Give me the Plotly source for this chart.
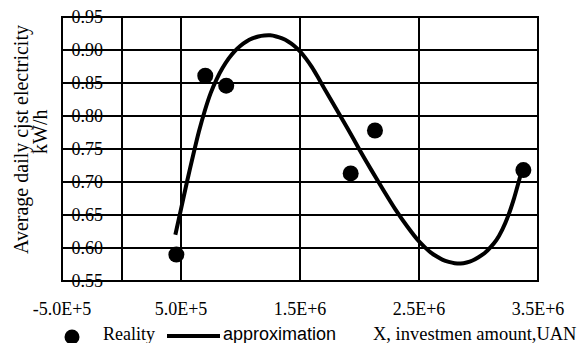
import plotly.graph_objects as go

# Observed data ("Reality")
real_x = [461000, 704000, 880000, 1926000, 2130000, 3377000]
real_y = [0.590, 0.861, 0.846, 0.713, 0.778, 0.718]

# Approximation curve
approx_x = [452500, 500000, 550000, 600000, 650000, 700000, 750000, 800000,
            850000, 900000, 950000, 1000000, 1050000, 1100000, 1150000,
            1200000, 1250000, 1300000, 1350000, 1400000, 1450000, 1500000,
            1550000, 1600000, 1650000, 1700000, 1800000, 1900000, 2000000,
            2100000, 2200000, 2300000, 2400000, 2500000, 2550000, 2600000,
            2650000, 2700000, 2750000, 2800000, 2850000, 2900000, 2950000,
            3000000, 3050000, 3100000, 3150000, 3200000, 3250000, 3300000,
            3354000]
approx_y = [0.620, 0.659, 0.700, 0.739, 0.776, 0.808, 0.835, 0.856,
            0.873, 0.887, 0.898, 0.9065, 0.913, 0.9175, 0.9205,
            0.922, 0.9222, 0.9205, 0.9175, 0.913, 0.9065, 0.898,
            0.887, 0.874, 0.859, 0.843, 0.812, 0.781, 0.749,
            0.718, 0.688, 0.659, 0.633, 0.610, 0.601, 0.593,
            0.587, 0.582, 0.579, 0.577, 0.5765, 0.578, 0.581,
            0.586, 0.592, 0.601, 0.612, 0.628, 0.649, 0.676,
            0.711]

x_tickvals = [-500000, 500000, 1500000, 2500000, 3500000]
x_ticktext = ["-5.0E+5", "5.0E+5", "1.5E+6", "2.5E+6", "3.5E+6"]
y_tickvals = [0.55, 0.60, 0.65, 0.70, 0.75, 0.80, 0.85, 0.90, 0.95]

y_title_1 = "Average daily cjst electricity"
y_title_2 = "kW/h"
x_title = "X, investmen amount,UAN"
legend_names = ["Reality", "approximation"]

SERIF = "'Liberation Serif', Tinos, 'Times New Roman', Times, serif"
SANS = "'Liberation Sans', Arimo, Arial, sans-serif"
INK = "#000000"

W, H = 579, 343
ML, MR, MT, MB = 62, 41, 17, 62
PW, PH = W - ML - MR, H - MT - MB


def px(xp):
    return (xp - ML) / PW


def py(yp):
    return (H - MB - yp) / PH


fig = go.Figure()
fig.add_trace(go.Scatter(x=approx_x, y=approx_y, mode="lines",
                         line=dict(color=INK, width=4, shape="spline", smoothing=0.6),
                         name=legend_names[1], showlegend=False, cliponaxis=False))
fig.add_trace(go.Scatter(x=real_x, y=real_y, mode="markers",
                         marker=dict(color=INK, size=16),
                         name=legend_names[0], showlegend=False, cliponaxis=False))

shapes = [
    dict(type="rect", xref="paper", yref="paper", x0=0, x1=1, y0=0, y1=1,
         line=dict(color=INK, width=2), layer="below"),
    # legend symbols
    dict(type="circle", xref="paper", yref="paper",
         x0=px(72 - 7.5), x1=px(72 + 7.5), y0=py(337 + 7.5), y1=py(337 - 7.5),
         fillcolor=INK, line=dict(color=INK, width=0)),
    dict(type="line", xref="paper", yref="paper",
         x0=px(167), x1=px(220), y0=py(336), y1=py(336),
         line=dict(color=INK, width=4)),
]

annotations = [
    dict(text=y_title_1, xref="paper", yref="paper", x=px(21), y=py(140),
         textangle=-90, showarrow=False, font=dict(family=SERIF, size=20, color=INK),
         xanchor="center", yanchor="middle"),
    dict(text=y_title_2, xref="paper", yref="paper", x=px(40), y=py(132),
         textangle=-90, showarrow=False, font=dict(family=SERIF, size=20, color=INK),
         xanchor="center", yanchor="middle"),
    dict(text=legend_names[0], xref="paper", yref="paper", x=px(101), y=py(334),
         showarrow=False, font=dict(family=SERIF, size=18, color=INK),
         xanchor="left", yanchor="middle"),
    dict(text=legend_names[1], xref="paper", yref="paper", x=px(221), y=py(334),
         showarrow=False, font=dict(family=SANS, size=18, color=INK),
         xanchor="left", yanchor="middle"),
    dict(text=x_title, xref="paper", yref="paper", x=px(371), y=py(334),
         showarrow=False, font=dict(family=SERIF, size=18.5, color=INK),
         xanchor="left", yanchor="middle"),
]

fig.update_layout(
    width=W, height=H,
    margin=dict(l=ML, r=MR, t=MT, b=MB, pad=0),
    paper_bgcolor="white", plot_bgcolor="white",
    font=dict(family=SERIF, size=18, color=INK),
    showlegend=False,
    shapes=shapes, annotations=annotations,
    xaxis=dict(range=[-500000, 3500000], tickvals=x_tickvals, ticktext=x_ticktext,
               showgrid=True, gridcolor=INK, gridwidth=2, zeroline=False,
               showline=False, ticks="", ticklabelstandoff=15,
               tickfont=dict(family=SERIF, size=18, color=INK), automargin=False),
    yaxis=dict(range=[0.55, 0.95], tickvals=y_tickvals, tickformat=".2f",
               anchor="free", position=0.125,
               showgrid=True, gridcolor=INK, gridwidth=2, zeroline=False,
               showline=True, linecolor=INK, linewidth=2, ticks="",
               ticklabelstandoff=14,
               tickfont=dict(family=SERIF, size=18, color=INK), automargin=False),
)

fig.write_html("out.html")
